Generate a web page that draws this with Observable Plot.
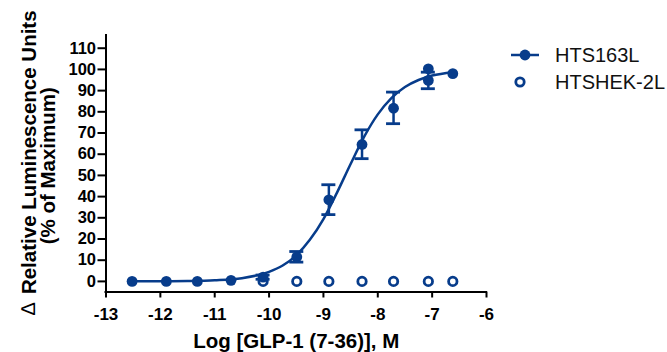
<!DOCTYPE html>
<html>
<head>
<meta charset="utf-8">
<script src="https://cdn.jsdelivr.net/npm/d3@7"></script>
<script src="https://cdn.jsdelivr.net/npm/@observablehq/plot@0.6"></script>
<style>
  html, body { margin: 0; padding: 0; background: #fff; }
  #wrap { position: relative; width: 667px; height: 352px; }
  #legend { position: absolute; left: 0; top: 0; pointer-events: none; }
</style>
</head>
<body>
<div id="wrap"></div>
<script>
// ---- data ----
const seriesNames = ["HTS163L", "HTSHEK-2L"];

// HTS163L (filled) points
const htsX   = [-12.52, -11.89, -11.32, -10.70, -10.11, -9.49, -8.90, -8.29, -7.71, -7.07, -7.07, -6.62];
const htsY   = [0, 0, 0, 0.5, 2, 11.5, 38.5, 64.6, 81.7, 94.8, 100.3, 98.0];

// error bars for HTS163L
const errX   = [-10.11, -9.49, -8.90, -8.29, -7.71, -7.07];
const errLo  = [1.0, 9.1, 31.5, 57.9, 74.4, 90.9];
const errHi  = [3.0, 14.1, 45.6, 71.5, 89.3, 98.7];

// HTSHEK-2L (open) points
const hekX   = [-10.11, -9.49, -8.90, -8.29, -7.71, -7.07, -6.62];
const hekY   = [0, 0, 0, 0, 0, 0, 0];

// fitted curve
const curveX = [-12.52, -12, -11.5, -11, -10.5, -10, -9.75, -9.5, -9.25, -9, -8.75, -8.5, -8.25, -8, -7.75, -7.5, -7.25, -7, -6.62];
const curveY = [0.02, 0.06, 0.17, 0.52, 1.5, 4.5, 7.5, 12.3, 19.6, 29.4, 41.9, 55.4, 68.3, 78.8, 86.5, 91.7, 95.0, 97.1, 98.7];

// axis ticks
const xTicks = [-13, -12, -11, -10, -9, -8, -7, -6];
const yTicks = [0, 10, 20, 30, 40, 50, 60, 70, 80, 90, 100, 110];

const xLabel = "Log [GLP-1 (7-36)], M";
const yLabel1 = "Relative Luminescence Units";
const yLabel2 = "(% of Maximum)";

// ---- build tables ----
const hts = htsX.map((x, i) => ({x, y: htsY[i]}));
const err = errX.map((x, i) => ({x, lo: errLo[i], hi: errHi[i]}));
const hek = hekX.map((x, i) => ({x, y: hekY[i]}));
const curve = curveX.map((x, i) => ({x, y: curveY[i]}));

const blue = "#073c8b";
const font = "Arial, 'Liberation Sans', Helvetica, sans-serif";

const W = 667, H = 352;
const mL = 105.5, mR = 181, mT = 35, mB = 60.5;
const pxPerX = (W - mL - mR) / 7;
const capHalf = 7 / pxPerX;

const chart = Plot.plot({
  width: W, height: H,
  marginLeft: mL, marginRight: mR, marginTop: mT, marginBottom: mB,
  style: {fontFamily: font, fontSize: "16px", fontWeight: "bold", color: "#000", background: "#fff"},
  x: {domain: [-13, -6]},
  y: {domain: [-5, 116]},
  marks: [
    Plot.ruleX([-13], {stroke: "#000", strokeWidth: 2, strokeLinecap: "square"}),
    Plot.ruleY([-5], {stroke: "#000", strokeWidth: 2, strokeLinecap: "square"}),
    Plot.axisY({ticks: yTicks, tickSize: 8, tickPadding: 2, strokeWidth: 2, fontSize: 16.5, fontWeight: "bold", label: null, tickFormat: d => String(d)}),
    Plot.axisX({ticks: xTicks, tickSize: 6, tickPadding: 10, strokeWidth: 2, fontSize: 17, fontWeight: "bold", label: null, tickFormat: d => String(d)}),
    Plot.text([xLabel], {frameAnchor: "bottom", dy: 49.5, lineAnchor: "middle", fontSize: 20.5, fontWeight: "bold", fill: "#000"}),
    Plot.text([yLabel1], {frameAnchor: "left", rotate: -90, dx: -77, dy: -11.5, lineAnchor: "middle", textAnchor: "middle", fontSize: 20.5, fontWeight: "bold", fill: "#000"}),
    Plot.text(["\u2206"], {frameAnchor: "left", rotate: -90, dx: -77, dy: 145, lineAnchor: "middle", textAnchor: "middle", fontSize: 20, fontWeight: "normal", fill: "#000"}),
    Plot.text([yLabel2], {frameAnchor: "left", rotate: -90, dx: -57.5, dy: 2, lineAnchor: "middle", textAnchor: "middle", fontSize: 20.5, fontWeight: "bold", fill: "#000"}),
    // curve
    Plot.line(curve, {x: "x", y: "y", stroke: blue, strokeWidth: 2.5, curve: "monotone-x"}),
    // open circles
    Plot.dot(hek, {x: "x", y: "y", r: 4.2, stroke: blue, strokeWidth: 2.8, fill: "#fff"}),
    // error bars
    Plot.ruleX(err, {x: "x", y1: "lo", y2: "hi", stroke: blue, strokeWidth: 2.5}),
    Plot.ruleY(err, {y: "lo", x1: d => d.x - capHalf, x2: d => d.x + capHalf, stroke: blue, strokeWidth: 2.8}),
    Plot.ruleY(err, {y: "hi", x1: d => d.x - capHalf, x2: d => d.x + capHalf, stroke: blue, strokeWidth: 2.8}),
    // filled points
    Plot.dot(hts, {x: "x", y: "y", r: 5.4, fill: blue, stroke: "none"})
  ]
});

const wrap = document.getElementById("wrap");
wrap.appendChild(chart);

// legend overlay (in the right margin)
const lg = d3.select(wrap).append("svg")
  .attr("id", "legend").attr("width", W).attr("height", H)
  .style("font-family", font);
const lx = 511, ly = [55, 82];
const g1 = lg.append("g");
g1.append("line").attr("x1", lx).attr("x2", lx + 28).attr("y1", ly[0]).attr("y2", ly[0])
  .attr("stroke", blue).attr("stroke-width", 2.5);
g1.append("circle").attr("cx", lx + 14).attr("cy", ly[0]).attr("r", 5.4).attr("fill", blue);
g1.append("text").attr("x", 555).attr("y", ly[0]).attr("dy", "0.35em")
  .attr("font-size", 20).attr("fill", "#111").text(seriesNames[0]);
const g2 = lg.append("g");
g2.append("circle").attr("cx", lx + 9).attr("cy", ly[1]).attr("r", 4.2).attr("fill", "#fff")
  .attr("stroke", blue).attr("stroke-width", 2.8);
g2.append("text").attr("x", 555).attr("y", ly[1]).attr("dy", "0.35em")
  .attr("font-size", 20).attr("fill", "#111").text(seriesNames[1]);
</script>
</body>
</html>
